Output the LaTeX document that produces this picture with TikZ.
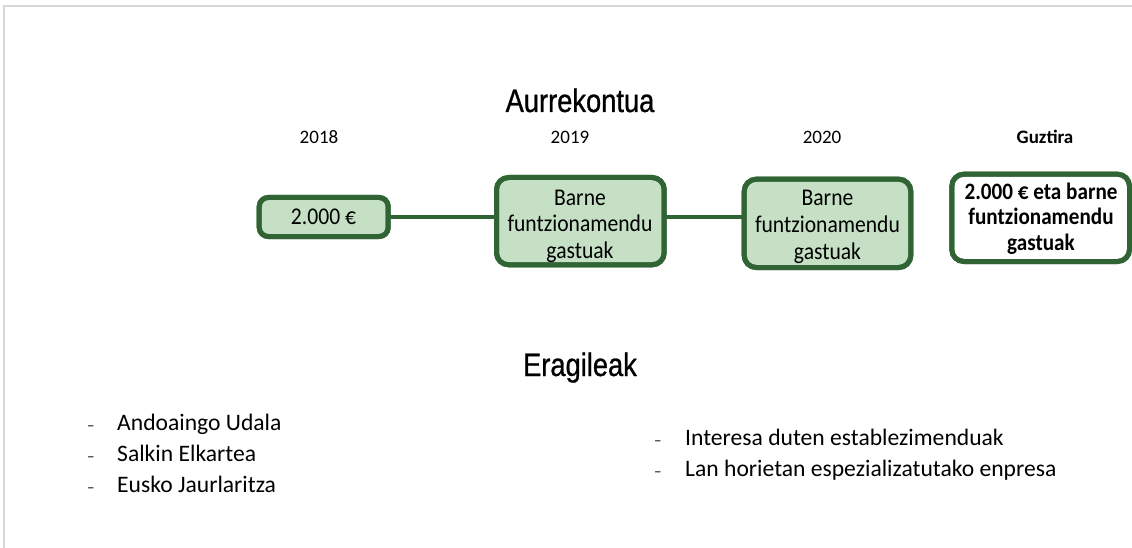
\documentclass[tikz,border=0pt]{standalone}
\usepackage{fontspec}
\setmainfont{Carlito}
\newfontfamily\titlefont[FakeStretch=0.84,FakeBold=0.8]{Liberation Sans}
\newfontfamily\boxfont[FakeStretch=0.9]{Carlito}
\definecolor{bdgreen}{RGB}{49,100,52}
\definecolor{fillgreen}{RGB}{197,224,197}
\definecolor{framegray}{RGB}{215,215,215}
\begin{document}
\begin{tikzpicture}[x=1pt,y=-1pt,
  gbox/.style={draw=bdgreen, line width=5pt, rounded corners=12pt, fill=fillgreen, inner sep=0pt, outer sep=0pt},
  wbox/.style={gbox, fill=white},
  bd/.style={draw=bdgreen, line width=5pt, rounded corners=12pt},
  conn/.style={draw=bdgreen, line width=3.2pt},
  ttl/.style={font=\titlefont\fontsize{32.5}{36}\selectfont, anchor=base, inner sep=0pt},
  yr/.style={font=\fontsize{19}{22}\selectfont, anchor=base, inner sep=0pt},
  boxtxt/.style={font=\boxfont\fontsize{24}{26}\selectfont, anchor=base, inner sep=0pt},
  boldtxt/.style={font=\boxfont\bfseries\fontsize{23.5}{26}\selectfont, anchor=base, inner sep=0pt},
  listtxt/.style={font=\fontsize{23.6}{28}\selectfont, anchor=base west, inner sep=0pt},
  dashmark/.style={font=\fontsize{15}{18}\selectfont, anchor=base west, inner sep=0pt},
]
\useasboundingbox (0,0) rectangle (1132,548);
% frame
\draw[framegray, line width=2pt] (3,6) -- (1132,6);
\draw[framegray, line width=1.2pt] (4,6) -- (4,548);

% titles
\node[ttl] (t1) at (580,112) {Aurrekontua};
\node[ttl] (t2) at (580,376) {Eragileak};

% years
\node[yr] (y1) at (319,144) {2018};
\node[yr] (y2) at (570,144) {2019};
\node[yr] (y3) at (822,144) {2020};
\node[yr, font=\bfseries\fontsize{19}{22}\selectfont] (y4) at (1045,144) {Guztira};

% boxes
\node[gbox, rounded corners=9pt, minimum width=129pt, minimum height=39pt] (b1) at (323.7,217) {};
\node[gbox, minimum width=167.7pt, minimum height=87.3pt] (b2) at (580.35,221.15) {};
\node[gbox, minimum width=166.6pt, minimum height=88.3pt] (b3) at (827.5,223.35) {};
\node[wbox, minimum width=177.7pt, minimum height=87.3pt] (b4) at (1040.65,217.85) {};

% box texts
\node[boxtxt] (b1t) at (323.5,225) {2.000 €};
\node[boxtxt] (b2a) at (580,205) {Barne};
\node[boxtxt] (b2b) at (580,231.5) {funtzionamendu};
\node[boxtxt] (b2c) at (580,258) {gastuak};
\node[boxtxt] (b3a) at (827.5,206) {Barne};
\node[boxtxt] (b3b) at (827.5,232.5) {funtzionamendu};
\node[boxtxt] (b3c) at (827.5,259) {gastuak};
\node[boldtxt] (b4a) at (1041,200) {2.000 € eta barne};
\node[boldtxt] (b4b) at (1041,225) {funtzionamendu};
\node[boldtxt] (b4c) at (1041,250) {gastuak};

% borders redrawn over text
\draw[bd, rounded corners=9pt] (b1.north west) rectangle (b1.south east);
\draw[bd] (b2.north west) rectangle (b2.south east);
\draw[bd] (b3.north west) rectangle (b3.south east);
\draw[bd] (b4.north west) rectangle (b4.south east);

% connectors
\draw[conn] (b1.east) -- (b1.east -| b2.west);
\draw[conn] (b2.east |- b1.east) -- (b3.west |- b1.east);

% lists
\node[dashmark] (d1) at (87,430) {–};
\node[listtxt] (l1) at (117,430) {Andoaingo Udala};
\node[dashmark] (d2) at (87,461) {–};
\node[listtxt] (l2) at (117,461) {Salkin Elkartea};
\node[dashmark] (d3) at (87,492) {–};
\node[listtxt] (l3) at (117,492) {Eusko Jaurlaritza};
\node[dashmark] (d4) at (654,445) {–};
\node[listtxt] (l4) at (685,445) {Interesa duten establezimenduak};
\node[dashmark] (d5) at (654,476.5) {–};
\node[listtxt] (l5) at (685,476.5) {Lan horietan espezializatutako enpresa};
\end{tikzpicture}
\end{document}
